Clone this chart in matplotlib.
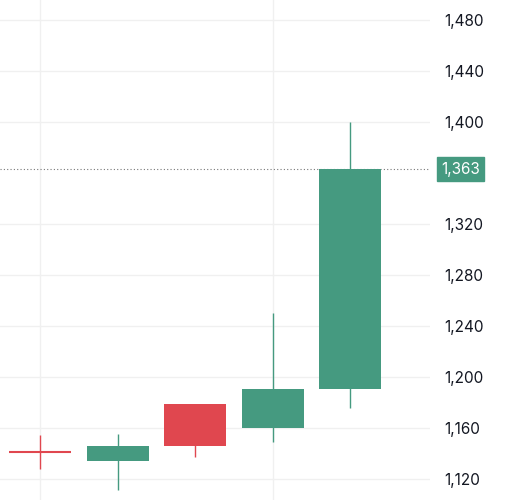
import matplotlib.pyplot as plt

plt.rcParams['font.family'] = ['Inter', 'DejaVu Sans']

# candle data
opens = [1141, 1134, 1179, 1160, 1190.6]
closes = [1141, 1146, 1146, 1190.6, 1363]
highs = [1154.5, 1155, 1179, 1250, 1400]
lows = [1128, 1111, 1137, 1149, 1175.7]
yticks = [1120, 1160, 1200, 1240, 1280, 1320, 1400, 1440, 1480]
last_price = 1363

green = '#459a80'
red = '#e0474f'

fig = plt.figure(figsize=(5.14, 5.0), dpi=100)
ax = fig.add_axes([0, 0, 430 / 514, 1])

for i in range(len(opens)):
    c = green if closes[i] > opens[i] else red
    ax.vlines(i, lows[i], highs[i], color=c, linewidth=1, zorder=3)
    lo = min(opens[i], closes[i])
    h = abs(closes[i] - opens[i])
    if h < 0.5:
        ax.hlines(opens[i], i - 0.4, i + 0.4, color=c, linewidth=1.5, zorder=3)
    else:
        ax.bar(i, h, bottom=lo, width=0.8, color=c, zorder=3)

ax.set_xlim(-0.516, 5.03)
ax.set_ylim(1103.5, 1495.7)
ax.set_xticks([0, 3])
ax.set_xticklabels([])
ax.set_yticks(yticks)
ax.yaxis.tick_right()
ax.set_yticklabels([f'{v:,}' for v in yticks])
ax.tick_params(axis='y', length=0, pad=10, labelsize=11, labelcolor='#131722')
ax.tick_params(axis='x', length=0)
ax.grid(True, color='#f0f0f0', linewidth=1)
for s in ax.spines.values():
    s.set_visible(False)

ax.axhline(last_price, color='#777777', linestyle=(0, (1, 2)), linewidth=0.8)
ax.annotate(f'{last_price:,}', xy=(1.0, last_price), xycoords=('axes fraction', 'data'),
            xytext=(8, 0), textcoords='offset points', va='center', ha='left',
            fontsize=11, color='white',
            bbox=dict(boxstyle='square,pad=0.3', fc=green, ec=green))

plt.savefig('out.png', dpi=100)
